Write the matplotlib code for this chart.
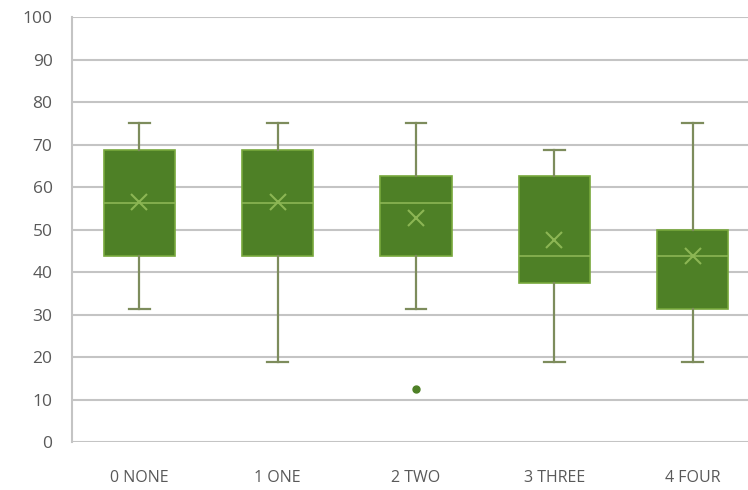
import matplotlib.pyplot as plt

# five-number summaries per group, plus mean and outliers
categories = ['0 NONE', '1 ONE', '2 TWO', '3 THREE', '4 FOUR']
whisker_low = [31.25, 18.75, 31.25, 18.75, 18.75]
q1 = [43.75, 43.75, 43.75, 37.5, 31.25]
median = [56.25, 56.25, 56.25, 43.75, 43.75]
q3 = [68.75, 68.75, 62.5, 62.5, 50.0]
whisker_high = [75.0, 75.0, 75.0, 68.75, 75.0]
means = [56.5, 56.5, 52.6, 47.5, 43.75]
outliers = [[], [], [12.5], [], []]

box_fill = '#4e8026'
box_edge = '#78a83c'
whisker_col = '#7d8c5c'
median_col = '#8cb654'
grid_col = '#c4c4c4'
text_col = '#595959'

stats = []
for i, name in enumerate(categories):
    stats.append({
        'label': name,
        'whislo': whisker_low[i],
        'q1': q1[i],
        'med': median[i],
        'q3': q3[i],
        'whishi': whisker_high[i],
        'mean': means[i],
        'fliers': outliers[i],
    })

fig = plt.figure(figsize=(7.48, 4.90), dpi=100)
ax = fig.add_axes([72 / 748, 48 / 490, 676 / 748, 425 / 490])

ax.bxp(stats, positions=range(len(categories)), widths=0.515,
       patch_artist=True, showmeans=True, capwidths=0.15,
       boxprops=dict(facecolor=box_fill, edgecolor=box_edge, linewidth=1.2),
       whiskerprops=dict(color=whisker_col, linewidth=1.6),
       capprops=dict(color=whisker_col, linewidth=1.6),
       medianprops=dict(color=median_col, linewidth=1.2),
       meanprops=dict(marker='x', markersize=11, markeredgecolor=median_col,
                      markeredgewidth=1.5),
       flierprops=dict(marker='o', markersize=5, markerfacecolor=box_fill,
                       markeredgecolor=box_fill))

ax.set_xlim(-0.4865, 4.4)
ax.set_ylim(0, 100)
ax.set_yticks(range(0, 101, 10))
ax.set_xticks(range(len(categories)))
ax.set_xticklabels(categories)

ax.yaxis.grid(True, color=grid_col, linewidth=1.5)
ax.set_axisbelow(True)
for side in ['top', 'right', 'bottom']:
    ax.spines[side].set_visible(False)
ax.spines['left'].set_color(grid_col)
ax.spines['left'].set_linewidth(1.5)

ax.tick_params(axis='both', length=0, labelcolor=text_col)
ax.tick_params(axis='y', pad=14, labelsize=12.5)
ax.tick_params(axis='x', pad=20, labelsize=11.5)
for lbl in ax.get_xticklabels() + ax.get_yticklabels():
    lbl.set_family('Open Sans')

fig.savefig('out.png', dpi=100)
